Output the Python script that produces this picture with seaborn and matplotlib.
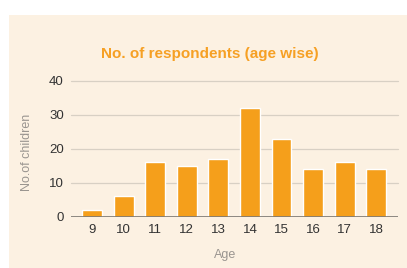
import matplotlib
matplotlib.use("Agg")
import matplotlib.pyplot as plt
from matplotlib.patches import Rectangle
import seaborn as sns
import pandas as pd

# data
ages = ["9", "10", "11", "12", "13", "14", "15", "16", "17", "18"]
children = [2, 6, 16, 15, 17, 32, 23, 14, 16, 14]
y_ticks = [0, 10, 20, 30, 40]

bg = "#FCF1E2"
bar_color = "#F59F1B"
title_color = "#F6A024"

sns.set_style("white")
plt.rcParams["font.family"] = ["Liberation Sans", "DejaVu Sans"]

df = pd.DataFrame({"Age": ages, "children": children})

fig = plt.figure(figsize=(4.07, 2.68), dpi=100)
fig.patch.set_facecolor("white")
# beige card behind the chart (white strip on top and left)
fig.patches.append(Rectangle((9 / 407, 0), 1, 1 - 15 / 268, transform=fig.transFigure,
                             facecolor=bg, edgecolor="none", zorder=-1))

ax = fig.add_axes([0.174, 0.191, 0.804, 0.508])
ax.patch.set_alpha(0)

sns.barplot(data=df, x="Age", y="children", color=bar_color, width=0.63,
            saturation=1, ax=ax, zorder=3)

ax.set_ylim(0, 40)
ax.set_xlim(-0.67, 9.69)
ax.set_yticks(y_ticks)
for t in y_ticks[1:]:
    ax.axhline(t, color="#D8D0C4", lw=0.9, zorder=1, clip_on=False)
ax.axhline(0, color="#7A7670", lw=1.2, zorder=4)

for s in ax.spines.values():
    s.set_visible(False)
ax.tick_params(axis="both", length=0, labelsize=9.5, colors="#333333")
ax.tick_params(axis="x", pad=5.5)
ax.tick_params(axis="y", pad=5)

ax.set_xlabel("Age", fontsize=9, color="#9A9590")
ax.set_ylabel("No.of children", fontsize=9, color="#9A9590")
ax.xaxis.set_label_coords(0.471, -0.235)
ax.yaxis.set_label_coords(-0.115, 0.472)

fig.text(0.516, 0.80, "No. of respondents (age wise)", ha="center", va="center",
         fontsize=11, fontweight="bold", color=title_color)

fig.savefig("out.png", dpi=100, facecolor=fig.get_facecolor())
